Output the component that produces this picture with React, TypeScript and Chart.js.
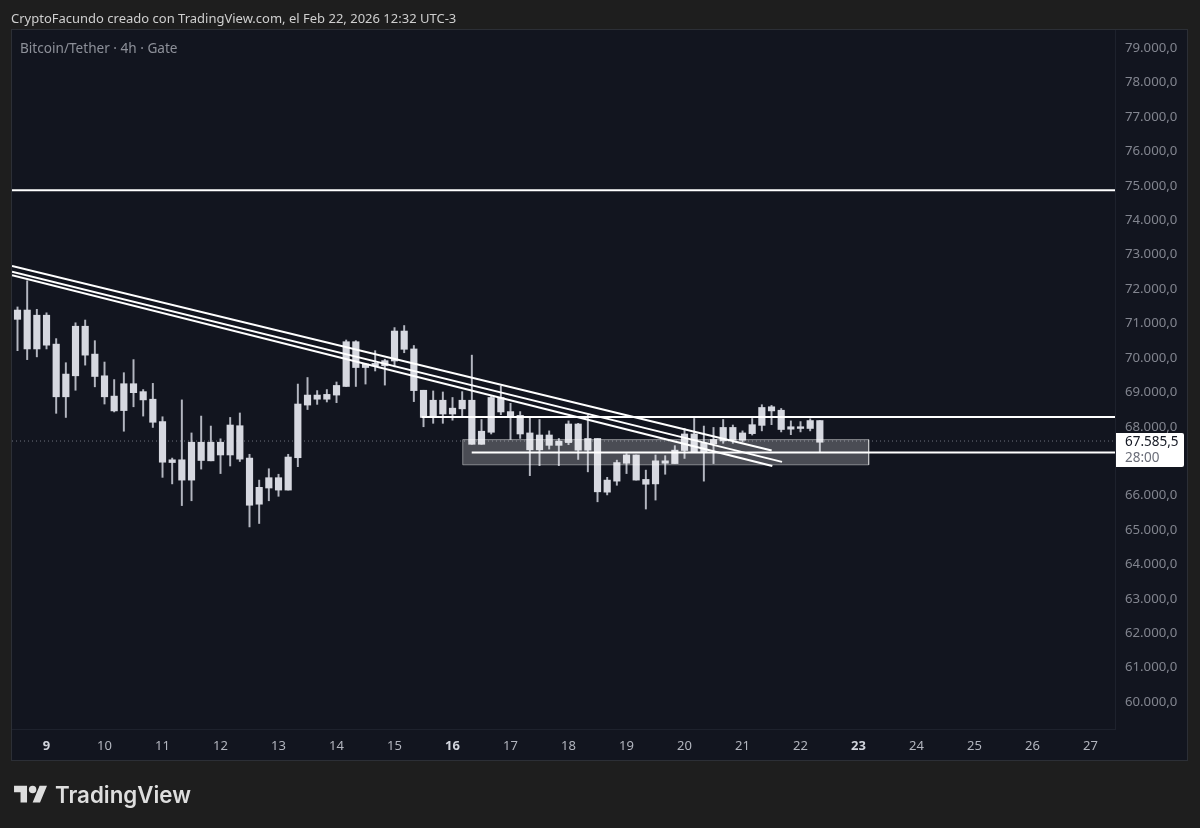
import { useEffect, useRef } from "react";
import { Chart, registerables } from "chart.js";

Chart.register(...registerables);

// one candle every 4h, first one at noon of the 8th
const firstCandleDay = 8.5;
const candleStep = 1 / 6;

const highs = [
  71480, 72240, 71410, 71310, 70560, 69860, 71020, 71100, 70500, 69880,
  69370, 69570, 69950, 69080, 69260, 68290, 67090, 68780, 67820, 68310,
  68020, 67650, 68270, 68400, 67200, 66450, 66780, 66620, 67200, 69240,
  69430, 69050, 69080, 69300, 70520, 70500, 69840, 70210, 69960, 70880,
  70940, 70360, 69060, 69040, 69010, 68850, 69020, 70080, 68210, 68890,
  69180, 68680, 68440, 68290, 68210, 67880, 67660, 68170, 68100, 68340,
  67660, 66530, 67030, 67220, 67180, 66740, 67180, 67160, 67450, 67950,
  68240, 68020, 67980, 68210, 68050, 67880, 68240, 68640, 68620, 68530,
  68170, 68150, 68230, 68180,
];
const bodyTops = [
  71390, 71390, 71240, 71240, 70400, 69530, 70920, 70920, 70110, 69480,
  68890, 69250, 69250, 69020, 68800, 68150, 67040, 67040, 67550, 67550,
  67550, 67550, 68050, 68030, 67090, 66240, 66520, 66520, 67120, 68660,
  68920, 68920, 68940, 69200, 70470, 70470, 69820, 69840, 69920, 70780,
  70780, 70260, 69060, 68770, 68770, 68540, 68770, 68770, 67870, 68850,
  68850, 68440, 68330, 67820, 67760, 67760, 67580, 68080, 68080, 67660,
  67660, 66450, 66960, 67180, 67180, 66470, 67010, 67010, 67320, 67790,
  67790, 67530, 67630, 67980, 67980, 67820, 68060, 68560, 68580, 68480,
  68000, 68000, 68180, 68180,
];
const bodyBottoms = [
  71120, 70260, 70260, 70370, 68870, 68870, 69480, 70080, 69460, 68870,
  68460, 68470, 68990, 68780, 68130, 66970, 66960, 66450, 66450, 67020,
  67010, 67180, 67180, 67060, 65720, 65750, 66220, 66160, 66160, 67100,
  68630, 68800, 68800, 68920, 69170, 69720, 69720, 69770, 69770, 69910,
  70250, 69050, 68270, 68270, 68370, 68370, 68520, 67490, 67490, 67840,
  68430, 68310, 67790, 67330, 67330, 67460, 67460, 67540, 67320, 67320,
  66110, 66100, 66420, 66940, 66450, 66330, 66340, 66940, 66930, 67310,
  67250, 67250, 67500, 67590, 67610, 67610, 67800, 68040, 68460, 67920,
  67930, 67950, 67950, 67550,
];
const lows = [
  70210, 69950, 70030, 70260, 68390, 68270, 69060, 69790, 69160, 68660,
  68430, 67870, 68580, 68310, 67980, 66530, 66340, 65710, 65850, 66770,
  67010, 66640, 66860, 66990, 65090, 65190, 65850, 65980, 66160, 66840,
  68500, 68650, 68720, 68700, 69170, 69170, 69240, 69620, 69210, 69740,
  70150, 68730, 68000, 68100, 68100, 68190, 68310, 67490, 67490, 67790,
  68350, 67630, 67660, 66580, 66870, 67350, 66870, 67480, 67050, 66690,
  65820, 66020, 66300, 66640, 66450, 65610, 65870, 66620, 66930, 67080,
  67250, 66420, 66930, 67520, 67520, 67560, 67760, 67880, 68060, 67850,
  67770, 67850, 67880, 67250,
];

const days = highs.map((_, i) => firstCandleDay + i * candleStep);

const xMin = 8.405;
const xMax = 27.422;
const yMin = 59220;
const yMax = 79525;

const priceTicks = [
  60000, 61000, 62000, 63000, 64000, 65000, 66000, 67000, 68000, 69000,
  70000, 71000, 72000, 73000, 74000, 75000, 76000, 77000, 78000, 79000,
];

const currentPrice = 67585.5;
const currentPriceLabel = "67.585,5";
const countdownLabel = "28:00";

// drawings on the chart: [day, price] pairs
const resistanceLevel = [[xMin, 74870], [xMax, 74870]];
const upperRange = [[15.467, 68280], [xMax, 68280]];
const lowerRange = [[16.331, 67250], [xMax, 67250]];
const trendA = [[xMin, 72670], [21.503, 67310]];
const trendB = [[xMin, 72500], [21.681, 66980]];
const trendC = [[xMin, 72400], [21.514, 66860]];
const zoneBox = [[16.176, 67626], [23.176, 67626], [23.176, 66894], [16.176, 66894], [16.176, 67626]];

const boldDays = [9, 16, 23];

const priceFormat = new Intl.NumberFormat("es-AR", {
  minimumFractionDigits: 1,
  maximumFractionDigits: 1,
});

const uiFont = "'Noto Sans', sans-serif";
const pageColor = "#1e1e1e";
const panelColor = "#12151f";
const candleColor = "#d6d8e0";

const toPoints = (pairs: number[][]) => pairs.map(([x, y]) => ({ x, y }));

const whiteLine = (pairs: number[][]) => ({
  type: "line" as const,
  data: toPoints(pairs),
  borderColor: "#ffffff",
  borderWidth: 2,
  pointRadius: 0,
  order: 1,
});

const isBoldDay = (ctx: any) => boldDays.includes(ctx.tick?.value);

const paintBackground = {
  id: "paintBackground",
  beforeDraw(chart: Chart) {
    const { ctx, width, height, chartArea } = chart;
    ctx.save();
    ctx.fillStyle = pageColor;
    ctx.fillRect(0, 0, width, height);
    ctx.fillStyle = panelColor;
    ctx.strokeStyle = "#2c2f36";
    ctx.lineWidth = 1;
    ctx.fillRect(chartArea.left, chartArea.top, 1175, 730);
    ctx.strokeRect(chartArea.left - 0.5, chartArea.top - 0.5, 1176, 731);
    ctx.restore();
  },
};

const priceTag = {
  id: "priceTag",
  afterDraw(chart: Chart) {
    const { ctx, chartArea } = chart;
    const y = chart.scales.y.getPixelForValue(currentPrice);
    const left = chartArea.right + 1;
    ctx.save();
    ctx.fillStyle = "#ffffff";
    ctx.beginPath();
    ctx.roundRect(left, y - 8, 68, 34, [0, 2, 2, 0]);
    ctx.fill();
    ctx.textBaseline = "middle";
    ctx.textAlign = "left";
    ctx.font = `13.5px ${uiFont}`;
    ctx.fillStyle = "#131722";
    ctx.fillText(currentPriceLabel, left + 9, y + 1);
    ctx.fillStyle = "#6a6d78";
    ctx.fillText(countdownLabel, left + 9, y + 17);
    ctx.restore();
  },
};

export default function App() {
  const canvasRef = useRef<HTMLCanvasElement | null>(null);

  useEffect(() => {
    const canvas = canvasRef.current;

    if (!canvas) {
      return;
    }

    const chart = new Chart(canvas, {
      type: "bar",
      data: {
        datasets: [
          {
            data: days.map((x, i) => ({ x, y: [lows[i], highs[i]] })),
            backgroundColor: "#b3b6c0",
            barThickness: 1.3,
            grouped: false,
            order: 5,
          },
          {
            data: days.map((x, i) => ({ x, y: [bodyBottoms[i], bodyTops[i]] })),
            backgroundColor: candleColor,
            barThickness: 6.5,
            grouped: false,
            order: 4,
          },
          {
            type: "line",
            data: [
              { x: xMin, y: currentPrice },
              { x: xMax, y: currentPrice },
            ],
            borderColor: "#6f727c",
            borderWidth: 1,
            borderDash: [1, 3],
            pointRadius: 0,
            order: 6,
          },
          {
            type: "line",
            data: toPoints(zoneBox),
            borderColor: "rgba(255, 255, 255, 0.42)",
            borderWidth: 1,
            backgroundColor: "rgba(255, 255, 255, 0.24)",
            fill: "shape",
            pointRadius: 0,
            order: 3,
          },
          whiteLine(resistanceLevel),
          whiteLine(upperRange),
          whiteLine(lowerRange),
          whiteLine(trendA),
          whiteLine(trendB),
          whiteLine(trendC),
        ] as any,
      },
      options: {
        responsive: false,
        animation: false,
        events: [],
        layout: {
          padding: { left: 12, top: 30, right: 13, bottom: 68 },
        },
        plugins: {
          legend: { display: false },
          tooltip: { enabled: false },
        },
        scales: {
          x: {
            type: "linear",
            min: xMin,
            max: xMax,
            offset: false,
            afterFit: (scale: any) => {
              scale.height = 31;
            },
            grid: { display: false, drawTicks: false },
            border: { color: "#1e222d" },
            ticks: {
              stepSize: 1,
              includeBounds: false,
              autoSkip: false,
              maxRotation: 0,
              padding: 9,
              callback: (value: any) => String(value),
              color: (ctx: any) => (isBoldDay(ctx) ? "#d1d4dc" : "#b2b5be"),
              font: (ctx: any) => ({
                family: uiFont,
                size: 13,
                weight: isBoldDay(ctx) ? "bold" : "normal",
              }),
            },
          },
          y: {
            position: "right",
            min: yMin,
            max: yMax,
            afterFit: (scale: any) => {
              scale.width = 72;
            },
            afterBuildTicks: (scale: any) => {
              scale.ticks = priceTicks.map((value) => ({ value }));
            },
            grid: { display: false, drawTicks: false },
            border: { color: "#1e222d" },
            ticks: {
              autoSkip: false,
              padding: 10,
              color: "#82858f",
              callback: (value: any) => priceFormat.format(Number(value)),
              font: { family: uiFont, size: 13.2 },
            },
          },
        },
      } as any,
      plugins: [paintBackground, priceTag],
    });

    return () => {
      chart.destroy();
    };
  }, []);

  return (
    <div
      style={{
        position: "absolute",
        left: 0,
        top: 0,
        width: 1200,
        height: 828,
        overflow: "hidden",
        fontFamily: uiFont,
      }}
    >
      <canvas ref={canvasRef} width={1200} height={828} style={{ display: "block" }} />
      <div style={{ position: "absolute", left: 11, top: 9, fontSize: 13, color: "#cfcfcf", whiteSpace: "nowrap" }}>
        CryptoFacundo creado con TradingView.com, el Feb 22, 2026 12:32 UTC-3
      </div>
      <div style={{ position: "absolute", left: 20, top: 38, fontSize: 13.6, color: "#8d9099", whiteSpace: "nowrap" }}>
        Bitcoin/Tether · 4h · Gate
      </div>
      <svg
        viewBox="0 0 36 28"
        style={{ position: "absolute", left: 14, top: 782, width: 33.5, height: 26 }}
        fill="#dedede"
      >
        <path d="M14 22H7V11H0V4h14v18zM28 22h-8l7.5-18h8L28 22z" />
        <circle cx="20" cy="8" r="4" />
      </svg>
      <div
        style={{
          position: "absolute",
          left: 55,
          top: 781,
          fontFamily: "Inter, sans-serif",
          fontSize: 22.3,
          fontWeight: 600,
          color: "#dedede",
          whiteSpace: "nowrap",
        }}
      >
        TradingView
      </div>
    </div>
  );
}
